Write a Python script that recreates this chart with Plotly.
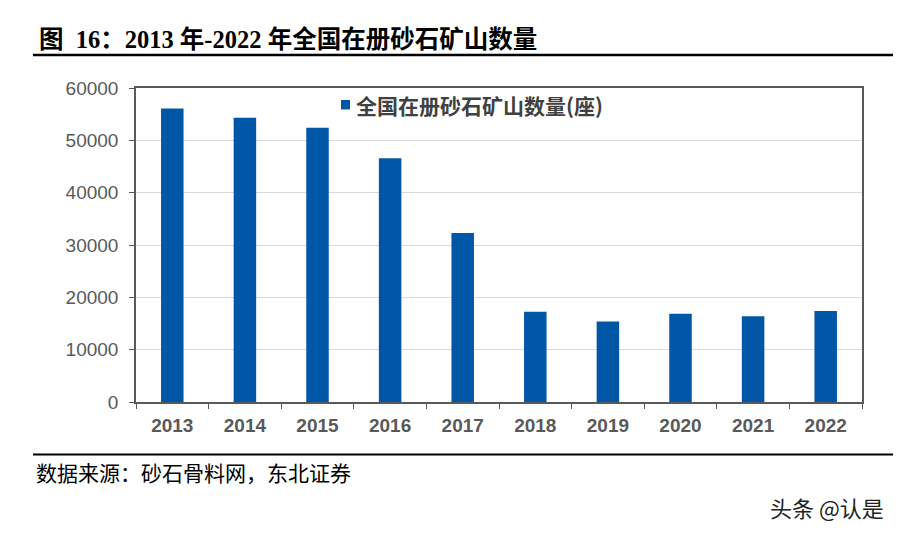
import plotly.graph_objects as go

years = ["2013", "2014", "2015", "2016", "2017", "2018", "2019", "2020", "2021", "2022"]
mines = [56100, 54300, 52400, 46600, 32300, 17250, 15400, 16880, 16370, 17400]
series_name = "全国在册砂石矿山数量(座)"
title_text = "图  16：2013 年-2022 年全国在册砂石矿山数量"
source_text = "数据来源：砂石骨料网，东北证券"
watermark = "头条 @认是"

OFF = 8  # page body margin
W, H = 901 - OFF, 535 - OFF
L, R, T, B = 136 - OFF, 862 - OFF, 87.5 - OFF, 402.3 - OFF


def px(x):
    return (x - OFF - L) / (R - L)


def py(y):
    return (B - (y - OFF)) / (B - T)


fig = go.Figure()
fig.add_trace(go.Bar(
    x=years, y=mines, name=series_name,
    marker=dict(color="#0057A8", line=dict(width=0)),
    width=0.31, showlegend=False,
))

fig.update_layout(
    width=W, height=H,
    margin=dict(l=L, r=W - R, t=T, b=H - B, pad=0),
    paper_bgcolor="white", plot_bgcolor="white",
    showlegend=False,
    font=dict(family="Liberation Sans, Arial", color="#595959"),
)

fig.update_xaxes(
    type="category",
    showline=True, linecolor="#595959", linewidth=1.5, mirror=True,
    ticks="outside", tickson="boundaries", ticklen=5, tickcolor="#595959",
    ticklabelstandoff=5,
    tickfont=dict(family="Liberation Sans, Arial", size=19, color="#595959", weight="bold"),
    showgrid=False,
)
fig.update_yaxes(
    range=[0, 60000], tickvals=[0, 10000, 20000, 30000, 40000, 50000, 60000],
    ticktext=["0", "10000", "20000", "30000", "40000", "50000", "60000"],
    showline=True, linecolor="#595959", linewidth=1.5, mirror=True,
    ticks="outside", ticklen=5, tickcolor="#595959",
    ticklabelstandoff=7,
    showgrid=True, gridcolor="#D9D9D9", gridwidth=1.2,
    tickfont=dict(family="Liberation Sans, Arial", size=19, color="#595959"),
    zeroline=False,
)

# legend (drawn by hand to match spacing)
fig.add_shape(type="rect", xref="paper", yref="paper",
              x0=px(341), x1=px(350), y0=py(109), y1=py(99.5),
              fillcolor="#0057A8", line=dict(width=0))
fig.add_annotation(
    xref="paper", yref="paper", x=px(354), y=py(104.5),
    xanchor="left", yanchor="middle", showarrow=False,
    text="<b>" + series_name + "</b>",
    font=dict(family="Noto Sans CJK SC", size=21, color="#404040"),
)

# Title, rules, source and watermark
fig.add_annotation(
    xref="paper", yref="paper", x=px(37), y=py(38.5),
    xanchor="left", yanchor="middle", showarrow=False,
    text="<b>" + title_text + "</b>",
    font=dict(family="Liberation Serif, Noto Sans CJK SC", size=24.5, color="#000000"),
)
fig.add_shape(type="line", xref="paper", yref="paper",
              x0=px(33), x1=px(901), y0=py(54.5), y1=py(54.5),
              line=dict(color="#000000", width=2.5))
fig.add_shape(type="line", xref="paper", yref="paper",
              x0=px(33), x1=px(901), y0=py(455), y1=py(455),
              line=dict(color="#000000", width=2))
fig.add_annotation(
    xref="paper", yref="paper", x=px(34), y=py(472),
    xanchor="left", yanchor="middle", showarrow=False,
    text=source_text,
    font=dict(family="Noto Sans CJK SC", size=21, color="#000000"),
)
fig.add_annotation(
    xref="paper", yref="paper", x=px(886), y=py(508),
    xanchor="right", yanchor="middle", showarrow=False,
    text=watermark,
    font=dict(family="Noto Sans CJK SC", size=22, color="#222222"),
)

fig.write_html("out.html")
